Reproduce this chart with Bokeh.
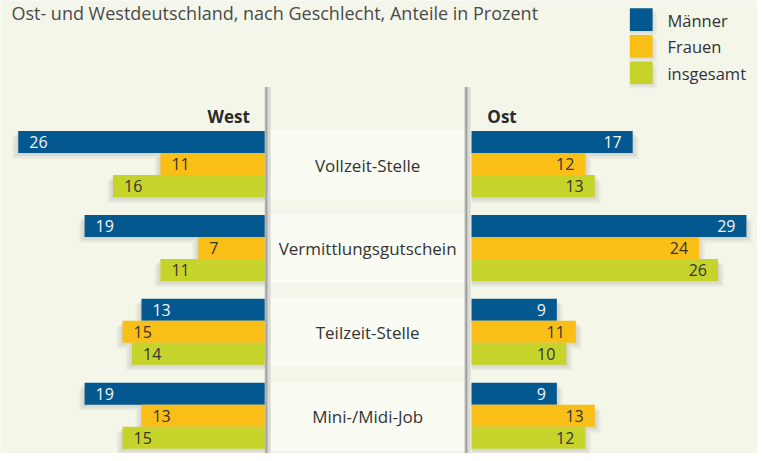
from bokeh.plotting import figure
from bokeh.models import ColumnDataSource, Range1d, Label
from bokeh.core.properties import value
from bokeh.embed import file_html
from bokeh.resources import INLINE

# ---------------- data ----------------
categories = ["Vollzeit-Stelle", "Vermittlungsgutschein", "Teilzeit-Stelle", "Mini-/Midi-Job"]
series = ["Männer", "Frauen", "insgesamt"]
west_maenner = [26, 19, 13, 19]
west_frauen = [11, 7, 15, 13]
west_insgesamt = [16, 11, 14, 15]
ost_maenner = [17, 29, 9, 9]
ost_frauen = [12, 24, 11, 13]
ost_insgesamt = [13, 26, 10, 12]
series_colors = ["#03598F", "#F9BF16", "#C6D32B"]
label_colors = ["#F2F5F8", "#333333", "#333333"]
title_text = "Ost- und Westdeutschland, nach Geschlecht, Anteile in Prozent"
header_west = "West"
header_ost = "Ost"

# ---------------- layout ----------------
FONT = "Open Sans"
W, H = 757, 453
KX, KY = W / 765, H / 461     # reference px -> figure px
BG = "#F4F6EA"
XS = 9.58 * KX                # px per percent
WEST0 = 267 * KX              # west origin
EAST0 = 476 * KX              # east origin
GY0 = 166.5 * KY              # first group centre
GP = 85.33 * KY               # px per group
BAR_PX = 22.4 * KY

def ux(r):
    """reference x px -> data x"""
    return (r * KX - WEST0) / XS

def uy(r):
    """reference y px -> data y"""
    return (r * KY - GY0) / GP

EAST_OFF = ux(476)
BH = BAR_PX / GP
DX = 1 / XS
DY = 1 / GP

p = figure(width=W, height=H, output_backend="svg", toolbar_location=None,
           x_range=Range1d(ux(0), ux(765)), y_range=Range1d(uy(461), uy(0)),
           min_border=0, background_fill_color=BG, border_fill_color=BG,
           outline_line_color=None)
p.xaxis.visible = False
p.yaxis.visible = False
p.xgrid.visible = False
p.ygrid.visible = False

n = len(categories)

# centre panel light bands
p.quad(left=[ux(273)] * n, right=[ux(469)] * n,
       top=[i - 1.5 * BH - DY for i in range(n)],
       bottom=[i + 1.5 * BH + 2 * DY for i in range(n)],
       fill_color="#FAFCF4", line_color=None)

# separator lines
ytop, ybot = uy(88), uy(461)
for x0, x1, c in [(267, 268.5, "#B4B4B4"), (268.5, 270, "#959595"), (270, 273, "#D9D9D6"),
                  (469, 470.5, "#B4B4B4"), (470.5, 472, "#959595"), (472, 475, "#D9D9D6")]:
    p.quad(left=[ux(x0)], right=[ux(x1)], top=[ytop], bottom=[ybot], fill_color=c, line_color=None)

west = [west_maenner, west_frauen, west_insgesamt]
ost = [ost_maenner, ost_frauen, ost_insgesamt]

# soft shadows
for d in (1.5, 3.0, 4.5, 6.0):
    for j in range(3):
        yc = [i + (j - 1) * BH for i in range(n)]
        p.quad(left=[-v - d * DX for v in west[j]], right=[0] * n,
               top=[y - BH / 2 + d * DY for y in yc], bottom=[y + BH / 2 + d * DY for y in yc],
               fill_color="black", fill_alpha=0.03, line_color=None)
        p.quad(left=[EAST_OFF] * n, right=[EAST_OFF + v + d * DX for v in ost[j]],
               top=[y - BH / 2 + d * DY for y in yc], bottom=[y + BH / 2 + d * DY for y in yc],
               fill_color="black", fill_alpha=0.03, line_color=None)

# bars + value labels
for j in range(3):
    yc = [i + (j - 1) * BH for i in range(n)]
    src_w = ColumnDataSource(dict(
        left=[-v for v in west[j]], right=[0] * n,
        top=[y - BH / 2 for y in yc], bottom=[y + BH / 2 for y in yc],
        tx=[-v + 11 * DX for v in west[j]], ty=yc, txt=[str(v) for v in west[j]]))
    src_e = ColumnDataSource(dict(
        left=[EAST_OFF] * n, right=[EAST_OFF + v for v in ost[j]],
        top=[y - BH / 2 for y in yc], bottom=[y + BH / 2 for y in yc],
        tx=[EAST_OFF + v - 11 * DX for v in ost[j]], ty=yc, txt=[str(v) for v in ost[j]]))
    p.quad(left="left", right="right", top="top", bottom="bottom", source=src_w,
           fill_color=series_colors[j], line_color=None)
    p.quad(left="left", right="right", top="top", bottom="bottom", source=src_e,
           fill_color=series_colors[j], line_color=None)
    p.text(x="tx", y="ty", text="txt", source=src_w, text_align="left", text_baseline="middle",
           text_font=value(FONT), text_font_size="16px", text_color=label_colors[j])
    p.text(x="tx", y="ty", text="txt", source=src_e, text_align="right", text_baseline="middle",
           text_font=value(FONT), text_font_size="16px", text_color=label_colors[j])

# category labels
src_c = ColumnDataSource(dict(x=[ux(371)] * n, y=[i + DY for i in range(n)], t=categories))
p.text(x="x", y="y", text="t", source=src_c, text_align="center", text_baseline="middle",
       text_font=value(FONT), text_font_size="17px", text_color="#333333")

# headers
p.add_layout(Label(x=ux(252), y=uy(118.5), text=header_west, text_align="right",
                   text_baseline="alphabetic", text_font=FONT, text_font_size="17px",
                   text_font_style="bold", text_color="#2a2a2a"))
p.add_layout(Label(x=ux(492), y=uy(118.5), text=header_ost, text_align="left",
                   text_baseline="alphabetic", text_font=FONT, text_font_size="17px",
                   text_font_style="bold", text_color="#2a2a2a"))

# title (kept fully inside the canvas)
p.add_layout(Label(x=ux(11), y=uy(1), text=title_text, text_align="left",
                   text_baseline="top", text_font=FONT, text_font_size="18px",
                   text_color="#4a4a4a"))

# legend
for k, name in enumerate(series):
    y0 = 8 + k * 27
    for d in (1.5, 3.0, 4.5):
        p.quad(left=[ux(636)], right=[ux(659 + d)], top=[uy(y0 + d)], bottom=[uy(y0 + 23 + d)],
               fill_color="black", fill_alpha=0.03, line_color=None)
    p.quad(left=[ux(636)], right=[ux(659)], top=[uy(y0)], bottom=[uy(y0 + 23)],
           fill_color=series_colors[k], line_color=None)
    p.add_layout(Label(x=ux(674), y=uy(y0 + 12), text=name, text_align="left",
                       text_baseline="middle", text_font=FONT, text_font_size="16.5px",
                       text_color="#333333"))

open("out.html", "w").write(file_html(p, INLINE))
